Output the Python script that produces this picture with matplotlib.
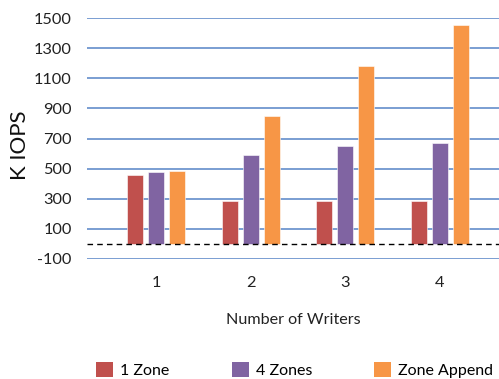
import matplotlib
matplotlib.use("Agg")
import matplotlib.pyplot as plt
import numpy as np
from matplotlib.patches import Patch

writers = ["1", "2", "3", "4"]
series_names = ["1 Zone", "4 Zones", "Zone Append"]
one_zone = [455, 285, 285, 285]
four_zones = [475, 588, 648, 668]
zone_append = [482, 850, 1180, 1452]
y_ticks = [-100, 100, 300, 500, 700, 900, 1100, 1300, 1500]

colors = ["#c0504d", "#8064a2", "#f79646"]
plt.rcParams["font.family"] = ["Lato", "DejaVu Sans"]
plt.rcParams["axes.unicode_minus"] = False

W, H = 499, 379
fig = plt.figure(figsize=(W / 100, H / 100), dpi=100)
ax = fig.add_axes([87 / W, 1 - 259 / H, 1 - 87 / W, (259 - 18) / H])

x = np.arange(1, len(writers) + 1)
width = 0.17
step = 0.222
for i, (vals, col) in enumerate(zip([one_zone, four_zones, zone_append], colors)):
    ax.bar(x + (i - 1) * step, vals, width, color=col, edgecolor="white",
           linewidth=0.4, zorder=3)

ax.axhline(0, color="black", linestyle=(0, (4, 3)), linewidth=1.0, zorder=4)

ax.set_ylim(-100, 1500)
ax.set_xlim(0.271, 4.623)
ax.set_yticks(y_ticks)
ax.set_xticks(x)
ax.set_xticklabels(writers)
ax.yaxis.grid(True, color="#6f96cf", linewidth=1.3, zorder=0)
ax.set_axisbelow(True)
for s in ax.spines.values():
    s.set_visible(False)
ax.tick_params(axis="both", length=0, labelsize=11.8, colors="#222222")
ax.tick_params(axis="y", pad=11)
ax.tick_params(axis="x", pad=12)

ax.set_ylabel("K IOPS", fontsize=16, color="#111111", va="center")
ax.yaxis.set_label_coords((20 - 87) / 412, (259 - 145) / 241)
ax.set_xlabel("Number of Writers", fontsize=11.6, labelpad=17, color="#222222")

# one legend entry per series, each anchored at its own spot along the bottom
legend_x = [96, 232, 374]
for name, col, lx in zip(series_names, colors, legend_x):
    fig.legend([Patch(facecolor=col, edgecolor="none")], [name],
               loc="center left", bbox_to_anchor=(lx / W, 1 - 370 / H),
               frameon=False, fontsize=11.5, handlelength=1.05,
               handleheight=1.05, handletextpad=0.45, borderpad=0,
               borderaxespad=0)

fig.savefig("out.png", dpi=100)
